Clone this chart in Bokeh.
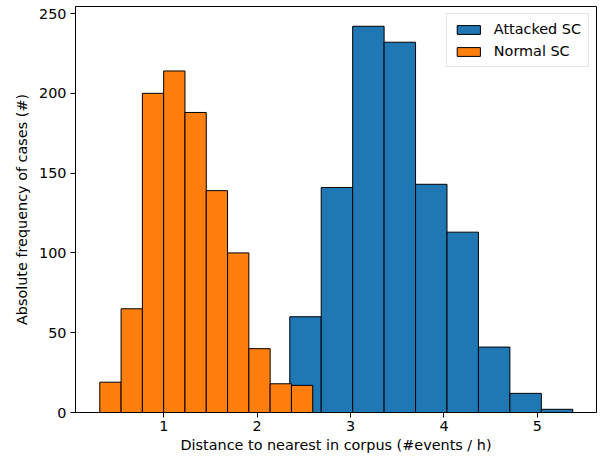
import numpy as np
from bokeh.plotting import figure
from bokeh.models import Range1d, FixedTicker, ColumnDataSource, Legend, LegendItem
from bokeh.embed import file_html
from bokeh.resources import INLINE

# Data: histogram counts and bin extents
attacked_counts = [60, 141, 242, 232, 143, 113, 41, 12, 2]
attacked_range = [2.349, 5.379]
normal_counts = [19, 65, 200, 214, 188, 139, 100, 40, 18, 17]
normal_range = [0.315, 2.595]
x_ticks = [1, 2, 3, 4, 5]
y_ticks = [0, 50, 100, 150, 200, 250]
x_label = "Distance to nearest in corpus (#events / h)"
y_label = "Absolute frequency of cases (#)"
series_names = ["Attacked SC", "Normal SC"]

FONT = "DejaVu Sans"
FS = "14.4px"

def hist_source(counts, rng):
    edges = np.linspace(rng[0], rng[1], len(counts) + 1)
    return ColumnDataSource(dict(left=edges[:-1], right=edges[1:],
                                 top=counts, bottom=[0] * len(counts)))

p = figure(width=600, height=459, output_backend="svg", toolbar_location=None,
           x_range=Range1d(0.055, 5.633), y_range=Range1d(0, 254.4),
           min_border_left=75, min_border_right=4, min_border_top=6, min_border_bottom=47)

r1 = p.quad(left="left", right="right", top="top", bottom="bottom",
            source=hist_source(attacked_counts, attacked_range),
            fill_color="#1f77b4", line_color="black", line_width=1)
r2 = p.quad(left="left", right="right", top="top", bottom="bottom",
            source=hist_source(normal_counts, normal_range),
            fill_color="#ff7f0e", line_color="black", line_width=1)

p.xgrid.visible = False
p.ygrid.visible = False
p.outline_line_color = "black"
p.outline_line_width = 1
p.outline_line_alpha = 1

for ax in (p.xaxis[0], p.yaxis[0]):
    ax.major_tick_in = 0
    ax.major_tick_out = 5
    ax.minor_tick_line_color = None
    ax.axis_line_color = "black"
    ax.major_tick_line_color = "black"
    ax.major_label_text_font = FONT
    ax.major_label_text_font_size = FS
    ax.major_label_text_color = "black"
    ax.axis_label_text_font = FONT
    ax.axis_label_text_font_size = FS
    ax.axis_label_text_font_style = "normal"
    ax.axis_label_text_color = "black"

p.xaxis.ticker = FixedTicker(ticks=x_ticks)
p.yaxis.ticker = FixedTicker(ticks=y_ticks)
p.xaxis.axis_label = x_label
p.yaxis.axis_label = y_label
p.xaxis.major_label_standoff = 3
p.yaxis.major_label_standoff = 4
p.xaxis.axis_label_standoff = 3
p.yaxis.axis_label_standoff = 6

legend = Legend(items=[LegendItem(label=series_names[0], renderers=[r1]),
                       LegendItem(label=series_names[1], renderers=[r2])],
                location="top_right")
legend.label_text_font = FONT
legend.label_text_font_size = FS
legend.label_text_color = "black"
legend.glyph_width = 29
legend.glyph_height = 11
legend.label_height = 16
legend.spacing = 6
legend.padding = 7
legend.margin = 7
legend.label_standoff = 11
legend.border_line_color = "#cccccc"
legend.border_line_width = 1
legend.background_fill_alpha = 0.8
p.add_layout(legend)

open("out.html", "w").write(file_html(p, INLINE))
